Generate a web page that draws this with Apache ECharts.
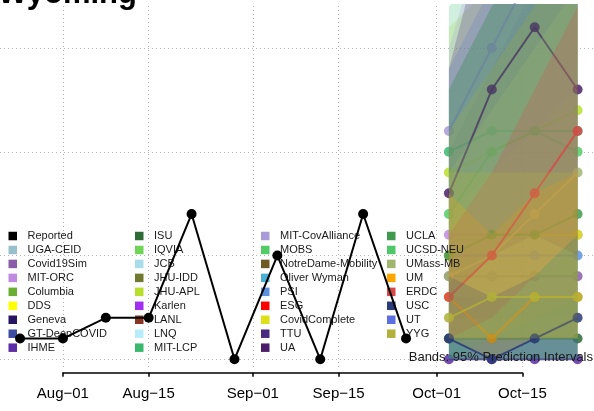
<!DOCTYPE html>
<html>
<head>
<meta charset="utf-8">
<script src="https://cdn.jsdelivr.net/npm/echarts@6/dist/echarts.min.js"></script>
<style>
  html, body { margin: 0; padding: 0; background: #fff; }
  #chart { width: 594px; height: 411px; }
</style>
</head>
<body>
<div id="chart"></div>
<script>
// reported weekly counts
var reportedDates = ['2020-07-25', '2020-08-01', '2020-08-08', '2020-08-15', '2020-08-22',
                     '2020-08-29', '2020-09-05', '2020-09-12', '2020-09-19', '2020-09-26'];
var reportedValues = [1, 1, 2, 2, 7, 0, 5, 0, 7, 1];

// axis
var tickDates = ['2020-08-01', '2020-08-15', '2020-09-01', '2020-09-15', '2020-10-01', '2020-10-15'];
var tickLabels = ['Aug\u221201', 'Aug\u221215', 'Sep\u221201', 'Sep\u221215', 'Oct\u221201', 'Oct\u221215'];
var gridValues = [0, 5, 10, 15];

// legend (4 columns), also the drawing order
var legendCol1 = ['Reported', 'UGA-CEID', 'Covid19Sim', 'MIT-ORC', 'Columbia', 'DDS', 'Geneva', 'GT-DeepCOVID', 'IHME'];
var legendCol2 = ['ISU', 'IQVIA', 'JCB', 'JHU-IDD', 'JHU-APL', 'Karlen', 'LANL', 'LNQ', 'MIT-LCP'];
var legendCol3 = ['MIT-CovAlliance', 'MOBS', 'NotreDame-Mobility', 'Oliver Wyman', 'PSI', 'ESG', 'CovidComplete', 'TTU', 'UA'];
var legendCol4 = ['UCLA', 'UCSD-NEU', 'UMass-MB', 'UM', 'ERDC', 'USC', 'UT', 'YYG'];

var colorCol1 = ['#000000', '#98c0cc', '#8b5ca8', '#c08ae0', '#6aae32', '#ffff00', '#261560', '#3c4da2', '#5b2ca3'];
var colorCol2 = ['#2e6b35', '#6fd655', '#a8dce8', '#6f7a2e', '#b8df2e', '#a12ef0', '#8a3520', '#b9ecfa', '#3ab870'];
var colorCol3 = ['#a99ad8', '#54cc66', '#6e5a22', '#4bb0d8', '#5d90e0', '#ff0000', '#dde015', '#4a2a80', '#4c1e6a'];
var colorCol4 = ['#3f9a4f', '#4fc86a', '#a0b56e', '#ffa500', '#d84848', '#2b3a78', '#5c6fe0', '#b0b03a'];

// forecasts (4 weekly targets)
var forecastDates = ['2020-10-03', '2020-10-10', '2020-10-17', '2020-10-24'];
var forecastModels = ['MIT-CovAlliance', 'MIT-LCP', 'JHU-APL', 'UA', 'MOBS', 'MIT-ORC', 'CovidComplete',
                      'UMass-MB', 'ERDC', 'YYG', 'USC', 'IHME', 'Covid19Sim', 'UCLA', 'PSI', 'UM', 'ISU'];
var forecastMid = [
  [11, 15, 19, 23], [10, 11, 11, 11], [9, 10, 11, 12], [8, 13, 16, 13], [7, 10, 11, 10], [6, 6, 6, 6],
  [5, 6, 6, 6], [4, 5, 7, 9], [3, 5, 8, 11], [2, 3, 3, 3], [1, 0, 1, 2], [0, 0, 0, 0],
  [4, 4, 4, 4], [5, 6, 6, 7], [5, 5, 5, 5], [3, 1, 3, 3], [1, 1, 1, 1]
];
var forecastLo = [
  [7, 9, 11, 13], [0, 0, 0, 0], [3, 3, 4, 4], [3, 5, 6, 5], [0, 1, 1, 1], [2, 2, 2, 2],
  [1, 1, 1, 1], [1, 1, 2, 3], [1, 2, 4, 6], [1, 1, 1, 1], [0, 0, 0, 0], [0, 0, 0, 0],
  [1, 1, 1, 1], [0, 0, 0, 0], [0, 0, 0, 0], [1, 0, 1, 1], [0, 0, 0, 0]
];
var forecastHi = [
  [15, 22, 28, 34], [17, 19, 20, 21], [16, 18, 20, 22], [14, 22, 27, 24], [13, 17, 19, 18], [13, 17, 20, 23],
  [11, 14, 17, 20], [9, 12, 15, 18], [6, 9, 13, 17], [9, 9, 9, 9], [4, 3, 4, 6], [1, 1, 1, 1],
  [10, 14, 18, 22], [13, 17, 20, 23], [14, 18, 21, 25], [8, 6, 8, 9], [3, 3, 3, 3]
];

function day(s) {
    return (Date.parse(s + 'T00:00:00Z') - Date.parse('2020-08-01T00:00:00Z')) / 864e5;
}

var allNames = legendCol1.concat(legendCol2, legendCol3, legendCol4);
var allColors = colorCol1.concat(colorCol2, colorCol3, colorCol4);

var fx = forecastDates.map(day);
var series = [];

// dotted grid lines
series.push({
    type: 'line', name: '_grid', data: [], z: 0, silent: true,
    markLine: {
        silent: true, symbol: 'none', label: { show: false },
        lineStyle: { color: '#b4b4b4', width: 1, type: [1, 3] },
        data: tickDates.map(function (d) { return { xAxis: day(d) }; })
            .concat(gridValues.map(function (v) { return { yAxis: v }; }))
    }
});

// keep the part of a polygon that lies below the top edge of the plot
function clipTop(pts, top) {
    var out = [];
    for (var i = 0; i < pts.length; i++) {
        var a = pts[i], b = pts[(i + 1) % pts.length];
        var ain = a[1] >= top, bin = b[1] >= top;
        if (ain) out.push(a);
        if (ain !== bin) {
            var t = (top - a[1]) / (b[1] - a[1]);
            out.push([a[0] + t * (b[0] - a[0]), top]);
        }
    }
    return out;
}

// each model: its band, then its line; later models are drawn over earlier ones
allNames.forEach(function (name, n) {
    if (name === 'Reported') return;
    var k = forecastModels.indexOf(name);
    var c = allColors[n];
    if (k >= 0) {
        series.push({
            type: 'custom', name: '_band' + k, z: 2 + 2 * n, silent: true,
            data: fx.map(function (x, j) { return [x, forecastLo[k][j], forecastHi[k][j]]; }),
            renderItem: function (params, api) {
                if (params.dataIndex !== 0) return;
                var upper = [], lower = [];
                for (var j = 0; j < fx.length; j++) {
                    upper.push(api.coord([fx[j], forecastHi[k][j]]));
                    lower.unshift(api.coord([fx[j], forecastLo[k][j]]));
                }
                return {
                    type: 'polygon',
                    shape: { points: clipTop(upper.concat(lower), params.coordSys.y) },
                    style: { fill: c, opacity: 0.23 }
                };
            }
        });
    }
    series.push({
        type: 'line', name: name, z: 3 + 2 * n, silent: true,
        symbol: 'circle', symbolSize: 10,
        lineStyle: { color: c, width: 2, opacity: 0.85 },
        itemStyle: { color: c, opacity: 0.85 },
        data: k < 0 ? [] : forecastMid[k].map(function (v, j) { return [fx[j], v]; })
    });
});

series.push({
    type: 'line', name: 'Reported', z: 101, silent: true,
    symbol: 'circle', symbolSize: 10,
    lineStyle: { color: '#000', width: 2 },
    itemStyle: { color: '#000' },
    data: reportedValues.map(function (v, j) { return [day(reportedDates[j]), v]; })
});

function makeLegend(names, colors, left) {
    return {
        orient: 'vertical', left: left, top: 230.5, padding: 0, z: 100,
        selectedMode: false, icon: 'rect', itemWidth: 8.5, itemHeight: 8.5, itemGap: 2.96,
        textStyle: { fontFamily: 'Liberation Sans', fontSize: 11, color: '#1a1a1a', lineHeight: 11, padding: [0, 0, 0, 5.5] },
        data: names.map(function (n, j) {
            return { name: n, itemStyle: { color: colors[j], opacity: 1 } };
        })
    };
}

var option = {
    animation: false,
    title: [
        { text: 'Wyoming', left: -2, top: -21, padding: 0, z: 102,
          textStyle: { fontFamily: 'Liberation Sans', fontSize: 31, fontWeight: 'bold', color: '#000' } },
        { text: 'Bands: 95% Prediction Intervals', right: 1, top: 351, padding: 0, z: 102,
          textStyle: { fontFamily: 'Liberation Sans', fontSize: 13, fontWeight: 'normal', color: '#1a1a1a' } }
    ],
    legend: [
        makeLegend(legendCol1, colorCol1, 8.5),
        makeLegend(legendCol2, colorCol2, 135),
        makeLegend(legendCol3, colorCol3, 261),
        makeLegend(legendCol4, colorCol4, 387)
    ],
    grid: [
        { left: 0, right: 0, top: 4, bottom: 44 },
        { left: 62.9, right: 71.6, top: 4, bottom: 38.3 }
    ],
    xAxis: [
        { type: 'value', gridIndex: 0, min: -10.27, max: 86.68, show: false },
        { type: 'value', gridIndex: 1, min: 0, max: 75,
          axisLine: { lineStyle: { color: '#000', width: 1.5 } },
          axisTick: { customValues: tickDates.map(day), length: 4, lineStyle: { color: '#000', width: 1.5 } },
          axisLabel: { customValues: tickDates.map(day), margin: 14, fontFamily: 'Liberation Sans', fontSize: 15, color: '#000',
                       formatter: function (v) {
                           var k = tickDates.map(day).indexOf(v);
                           return k < 0 ? '' : tickLabels[k];
                       } },
          splitLine: { show: false } }
    ],
    yAxis: [
        { type: 'value', gridIndex: 0, min: -0.37, max: 17.12, show: false },
        { type: 'value', gridIndex: 1, min: 0, max: 1, show: false }
    ],
    series: series
};

var myChart = echarts.init(document.getElementById('chart'));
myChart.setOption(option);
</script>
</body>
</html>
